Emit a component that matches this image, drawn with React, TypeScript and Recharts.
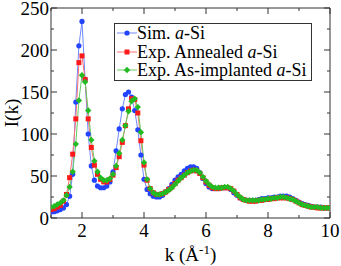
import React from 'react';
import { LineChart, Line, XAxis, YAxis, Legend } from 'recharts';

const kValues = [
  1.0, 1.1, 1.2, 1.3, 1.4, 1.5, 1.6, 1.7, 1.8, 1.9,
  2.0, 2.1, 2.2, 2.3, 2.4, 2.5, 2.6, 2.7, 2.8, 2.9,
  3.0, 3.1, 3.2, 3.3, 3.4, 3.5, 3.6, 3.7, 3.8, 3.9,
  4.0, 4.1, 4.2, 4.3, 4.4, 4.5, 4.6, 4.7, 4.8, 4.9,
  5.0, 5.1, 5.2, 5.3, 5.4, 5.5, 5.6, 5.7, 5.8, 5.9,
  6.0, 6.1, 6.2, 6.3, 6.4, 6.5, 6.6, 6.7, 6.8, 6.9,
  7.0, 7.1, 7.2, 7.3, 7.4, 7.5, 7.6, 7.7, 7.8, 7.9,
  8.0, 8.1, 8.2, 8.3, 8.4, 8.5, 8.6, 8.7, 8.8, 8.9,
  9.0, 9.1, 9.2, 9.3, 9.4, 9.5, 9.6, 9.7, 9.8, 9.9,
  10.0,
];

const simASi = [
  7, 7.5, 8.5, 10, 12, 16, 26, 52, 138, 205,
  234, 165, 100, 62, 45, 38, 36, 36, 38, 43,
  55, 80, 106, 130, 147, 150, 144, 128, 105, 75,
  46, 34, 29, 26, 25, 25, 27, 31, 35, 40,
  45, 49, 52, 56, 59, 61, 61, 59, 54, 47,
  41, 37, 35, 35, 35, 36, 36, 36, 34, 30,
  27, 24, 22, 21, 21, 21, 21, 22, 23, 23,
  24, 24, 25, 25, 26, 26, 26, 25, 23, 21,
  19, 17, 16, 15, 14, 13, 13, 13, 12, 12,
  12,
];

const annealedASi = [
  10, 11, 13, 15, 20, 28, 48, 76, 118, 185,
  193, 165, 118, 84, 63, 52, 46, 43, 43, 46,
  51, 60, 73, 90, 110, 130, 142, 141, 125, 92,
  63, 45, 35, 30, 28, 28, 29, 31, 34, 37,
  41, 45, 48, 51, 54, 56, 57, 56, 53, 48,
  43, 39, 36, 35, 35, 36, 36, 36, 35, 32,
  28, 24, 22, 21, 20, 20, 20, 21, 21, 22,
  22, 23, 23, 24, 24, 24, 24, 23, 22, 20,
  18, 16, 15, 14, 13, 13, 12, 12, 12, 12,
  12,
];

const implantedASi = [
  13, 14, 16, 18, 21, 27, 37, 55, 88, 140,
  170, 162, 128, 93, 68, 55, 48, 45, 45, 47,
  52, 62, 77, 93, 110, 127, 139, 142, 132, 102,
  66, 46, 35, 30, 28, 28, 29, 31, 33, 36,
  40, 44, 48, 51, 54, 56, 57, 57, 54, 49,
  44, 40, 37, 36, 36, 36, 37, 37, 35, 32,
  28, 25, 22, 21, 21, 21, 21, 21, 22, 22,
  23, 23, 24, 24, 25, 25, 24, 23, 22, 20,
  18, 16, 15, 14, 13, 13, 13, 12, 12, 12,
  12,
];

const xTicks = [1, 2, 3, 4, 5, 6, 7, 8, 9, 10];
const yTicks = [0, 25, 50, 75, 100, 125, 150, 175, 200, 225, 250];

const data = kValues.map((k, i) => ({
  k,
  sim: simASi[i],
  ann: annealedASi[i],
  imp: implantedASi[i],
}));

const serif = "'Liberation Serif', 'Times New Roman', serif";
const axisColor = '#333';
const BLUE = '#2244ff';
const BLUE_LINE = '#7088ff';
const RED = '#ff1a1a';
const RED_LINE = '#ff7070';
const GREEN = '#22bb22';
const GREEN_LINE = '#66cc66';

const Marker = ({ shape, cx, cy, color }: any) => {
  if (shape === 'square') {
    return <rect x={cx - 2.5} y={cy - 2.5} width={5} height={5} fill={color} />;
  }
  if (shape === 'diamond') {
    return (
      <polygon
        points={`${cx},${cy - 3.2} ${cx + 3.2},${cy} ${cx},${cy + 3.2} ${cx - 3.2},${cy}`}
        fill={color}
      />
    );
  }
  return <circle cx={cx} cy={cy} r={2.6} fill={color} />;
};

const makeDot = (shape: string, color: string) => (p: any) => {
  if (p.cx == null || p.cy == null) return <g key={`e${p.index}`} />;
  return (
    <g key={`${shape}${p.index}`}>
      <Marker shape={shape} cx={p.cx} cy={p.cy} color={color} />
    </g>
  );
};

const BottomTick = (p: any) => {
  const v = p.payload.value;
  const major = v % 2 === 0;
  return (
    <g>
      <line x1={p.x} x2={p.x} y1={p.y} y2={p.y - (major ? 6 : 3)} stroke={axisColor} />
      {major && (
        <text x={p.x} y={p.y + 19} textAnchor="middle" fontSize={19} fontFamily={serif} fill="#000">
          {v}
        </text>
      )}
    </g>
  );
};

const TopTick = (p: any) => {
  const v = p.payload.value;
  const major = v % 2 === 0;
  return <line x1={p.x} x2={p.x} y1={p.y} y2={p.y + (major ? 6 : 3)} stroke={axisColor} />;
};

const LeftTick = (p: any) => {
  const v = p.payload.value;
  const major = v % 50 === 0;
  return (
    <g>
      <line x1={p.x} x2={p.x + (major ? 6 : 3)} y1={p.y} y2={p.y} stroke={axisColor} />
      {major && (
        <text x={p.x - 2} y={p.y + 6.5} textAnchor="end" fontSize={19} fontFamily={serif} fill="#000">
          {v}
        </text>
      )}
    </g>
  );
};

const RightTick = (p: any) => {
  const v = p.payload.value;
  const major = v % 50 === 0;
  return <line x1={p.x} x2={p.x - (major ? 6 : 3)} y1={p.y} y2={p.y} stroke={axisColor} />;
};

const legendItems = [
  { key: 'sim', pre: 'Sim. ', post: '-Si', shape: 'circle', color: BLUE, line: BLUE_LINE },
  { key: 'ann', pre: 'Exp. Annealed ', post: '-Si', shape: 'square', color: RED, line: RED_LINE },
  { key: 'imp', pre: 'Exp. As-implanted ', post: '-Si', shape: 'diamond', color: GREEN, line: GREEN_LINE },
];

const renderLegend = () => (
  <div
    style={{
      width: 198,
      height: 58,
      boxSizing: 'border-box',
      border: `1px solid ${axisColor}`,
      background: '#fff',
      fontFamily: serif,
      fontSize: 18,
      color: '#000',
    }}
  >
    {legendItems.map((it) => (
      <div key={it.key} style={{ display: 'flex', alignItems: 'center', height: 18.5 }}>
        <svg width={20} height={18} style={{ marginLeft: 2, flex: 'none' }}>
          <line x1={0} x2={20} y1={9} y2={9} stroke={it.line} strokeWidth={1} />
          <Marker shape={it.shape} cx={10} cy={9} color={it.color} />
        </svg>
        <span style={{ whiteSpace: 'nowrap', lineHeight: '18px' }}>
          {it.pre}
          <i>a</i>
          {it.post}
        </span>
      </div>
    ))}
  </div>
);

const YLabel = (p: any) => {
  const vb = p.viewBox || { x: 0, y: 8, width: 51, height: 210 };
  const cx = vb.x + 18;
  const cy = vb.y + vb.height / 2;
  return (
    <text
      x={cx}
      y={cy}
      transform={`rotate(-90, ${cx}, ${cy})`}
      textAnchor="middle"
      fontSize={19}
      fontFamily={serif}
      fill="#000"
    >
      I(k)
    </text>
  );
};

const XLabel = (p: any) => {
  const vb = p.viewBox || { x: 51, y: 218, width: 279, height: 48 };
  const cx = vb.x + vb.width / 2;
  const y = vb.y + 43;
  return (
    <text x={cx} y={y} textAnchor="middle" fontSize={19} fontFamily={serif} fill="#000">
      k (Å
      <tspan fontSize={13} dy={-7}>-1</tspan>
      <tspan dy={7}>)</tspan>
    </text>
  );
};

export default function App() {
  return (
    <div style={{ position: 'absolute', left: 0, top: 0, width: 341, height: 266, background: '#fff' }}>
      <LineChart width={341} height={266} data={data} margin={{ top: 0, right: 0, bottom: 0, left: 0 }}>
        <XAxis
          xAxisId="b"
          dataKey="k"
          type="number"
          domain={[1, 10]}
          allowDataOverflow
          ticks={xTicks}
          interval={0}
          orientation="bottom"
          height={48}
          tickSize={0}
          tickMargin={0}
          tickLine={false}
          axisLine={{ stroke: axisColor }}
          tick={BottomTick}
          label={{ content: XLabel }}
        />
        <XAxis
          xAxisId="t"
          dataKey="k"
          type="number"
          domain={[1, 10]}
          allowDataOverflow
          ticks={xTicks}
          interval={0}
          orientation="top"
          height={8}
          tickSize={0}
          tickMargin={0}
          tickLine={false}
          axisLine={{ stroke: axisColor }}
          tick={TopTick}
        />
        <YAxis
          yAxisId="l"
          type="number"
          domain={[0, 250]}
          allowDataOverflow
          ticks={yTicks}
          interval={0}
          orientation="left"
          width={51}
          tickSize={0}
          tickMargin={0}
          tickLine={false}
          axisLine={{ stroke: axisColor }}
          tick={LeftTick}
          label={{ content: YLabel }}
        />
        <YAxis
          yAxisId="r"
          type="number"
          domain={[0, 250]}
          allowDataOverflow
          ticks={yTicks}
          interval={0}
          orientation="right"
          width={11}
          tickSize={0}
          tickMargin={0}
          tickLine={false}
          axisLine={{ stroke: axisColor }}
          tick={RightTick}
        />
        <Legend
          layout="vertical"
          align="center"
          verticalAlign="middle"
          wrapperStyle={{ position: 'absolute', left: 114, top: 23, width: 198, height: 58 }}
          content={renderLegend}
        />
        <Line
          xAxisId="b"
          yAxisId="l"
          type="linear"
          dataKey="sim"
          name="Sim. a-Si"
          stroke={BLUE_LINE}
          strokeWidth={1}
          dot={makeDot('circle', BLUE)}
          activeDot={false}
          isAnimationActive={false}
        />
        <Line
          xAxisId="b"
          yAxisId="l"
          type="linear"
          dataKey="ann"
          name="Exp. Annealed a-Si"
          stroke={RED_LINE}
          strokeWidth={1}
          dot={makeDot('square', RED)}
          activeDot={false}
          isAnimationActive={false}
        />
        <Line
          xAxisId="b"
          yAxisId="l"
          type="linear"
          dataKey="imp"
          name="Exp. As-implanted a-Si"
          stroke={GREEN_LINE}
          strokeWidth={1}
          dot={makeDot('diamond', GREEN)}
          activeDot={false}
          isAnimationActive={false}
        />
      </LineChart>
    </div>
  );
}
